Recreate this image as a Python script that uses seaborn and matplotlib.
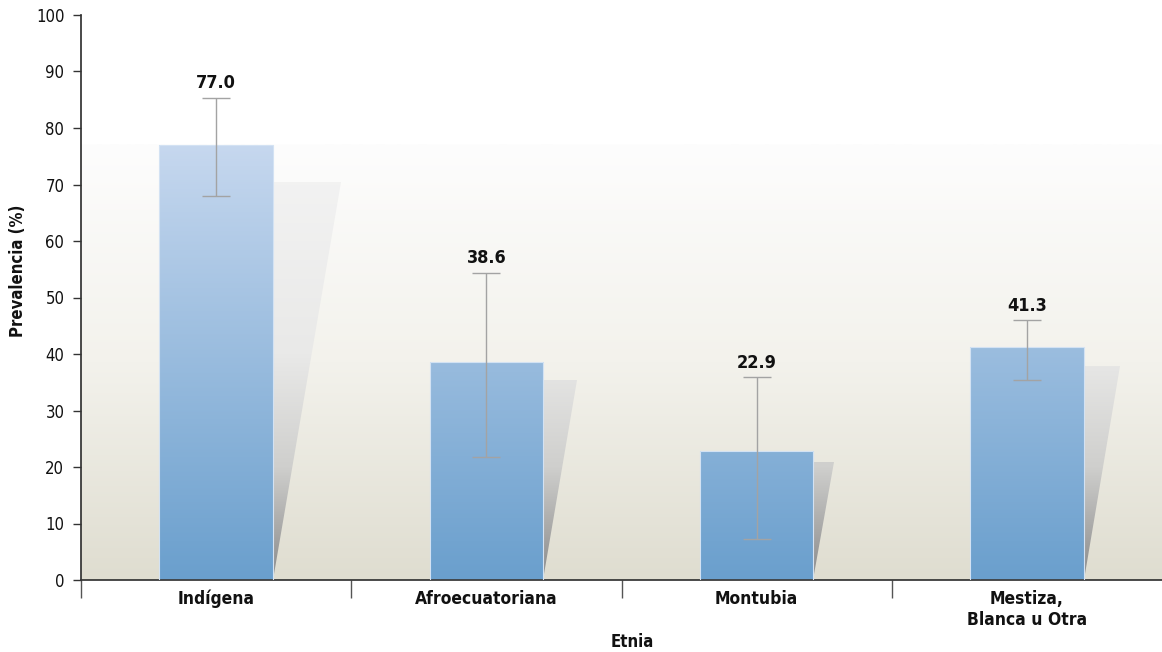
import numpy as np
import pandas as pd
import seaborn as sns
import matplotlib.pyplot as plt
from matplotlib.colors import LinearSegmentedColormap
from matplotlib.patches import Polygon

# dados
etnias = ['Indígena', 'Afroecuatoriana', 'Montubia', 'Mestiza,\nBlanca u Otra']
prevalencia = [77.0, 38.6, 22.9, 41.3]
ic_inferior = [68.0, 21.8, 7.2, 35.4]
ic_superior = [85.3, 54.4, 35.9, 46.0]

df = pd.DataFrame({'Etnia': etnias, 'Prevalencia': prevalencia})

sns.set_theme(style='ticks')
plt.rcParams['font.family'] = ['DejaVu Sans']
plt.rcParams['font.stretch'] = 'condensed'

fig = plt.figure(figsize=(11.62, 6.52), dpi=100)
ax = fig.add_axes([81/1162, 1 - 580/652, 1 - 81/1162, (580 - 15)/652])

sns.barplot(data=df, x='Etnia', y='Prevalencia', width=0.42, ax=ax,
            color='#8fb3da', edgecolor='#d3e2f3', linewidth=0.8, zorder=3)
barras = list(ax.patches)

# gradientes
cmap_barra = LinearSegmentedColormap.from_list('barra', ['#6a9fcd', '#cadaf0'])
cmap_sombra = LinearSegmentedColormap.from_list(
    'sombra', [(0, '#8a8a8a'), (0.25, '#cfcfcd'), (0.5, '#e9e9e8'), (1, '#f5f5f5')])
cmap_fundo = LinearSegmentedColormap.from_list('fundo', ['#dfddd0', '#f3f2ec', '#fdfdfd'])
grad = np.linspace(0, 1, 256).reshape(-1, 1)

# fundo
ax.imshow(grad, extent=[-0.5, 3.5, 0, 77], origin='lower', cmap=cmap_fundo,
          aspect='auto', zorder=0)

px_x = (1162 - 81) / 4  # pixels por categoria
px_y = (580 - 15) / 100
for p in barras:
    x0, w, h = p.get_x(), p.get_width(), p.get_height()
    # sombra
    topo = h * 0.915
    dx = 0.17 * topo * px_y / px_x
    sombra = Polygon([(x0 + w, 0), (x0 + w, topo), (x0 + w + dx, topo)],
                     closed=True, facecolor='none', edgecolor='none', zorder=1)
    ax.add_patch(sombra)
    im = ax.imshow(grad, extent=[x0 + w, x0 + w + dx, 0, 80], origin='lower',
                   cmap=cmap_sombra, aspect='auto', zorder=1)
    im.set_clip_path(sombra)
    # barra
    p.set_facecolor('none')
    im = ax.imshow(grad, extent=[x0, x0 + w, 0, 80], origin='lower',
                   cmap=cmap_barra, aspect='auto', zorder=2)
    im.set_clip_path(p)

centros = [p.get_x() + p.get_width() / 2 for p in barras]
val = np.array(prevalencia)
ax.errorbar(centros, val, yerr=[val - np.array(ic_inferior), np.array(ic_superior) - val],
            fmt='none', ecolor='#a3a3a3', elinewidth=1, capsize=10, capthick=1, zorder=4)

for xc, v, s in zip(centros, prevalencia, ic_superior):
    ax.annotate(f'{v:.1f}', (xc, s), xytext=(0, 4), textcoords='offset points',
                ha='center', va='bottom', fontsize=13, fontweight='bold', color='#111111')

ax.set_xlim(-0.5, 3.5)
ax.set_ylim(0, 100)
ax.set_yticks(range(0, 101, 10))
ax.set_xticks([-0.5, 0.5, 1.5, 2.5], minor=True)
ax.tick_params(axis='x', which='major', length=0, pad=7, labelsize=12.5, labelcolor='#111111')
ax.tick_params(axis='x', which='minor', length=13, width=1, color='#555555', direction='out')
ax.tick_params(axis='y', length=6, width=1, color='#333333', labelsize=12, pad=6,
               labelcolor='#111111')
for lb in ax.get_xticklabels():
    lb.set_fontweight('bold')

sns.despine(ax=ax, top=True, right=True)
ax.spines['left'].set_color('#333333')
ax.spines['bottom'].set_color('#333333')
ax.set_facecolor('white')

ax.set_xlabel('Etnia', fontsize=12, fontweight='bold', color='#111111')
ax.set_ylabel('Prevalencia (%)', fontsize=12, fontweight='bold', color='#111111')
ax.xaxis.set_label_coords(0.51, -0.093)
ax.yaxis.set_label_coords(-0.05, 0.547)

fig.savefig('out.png', dpi=100)
